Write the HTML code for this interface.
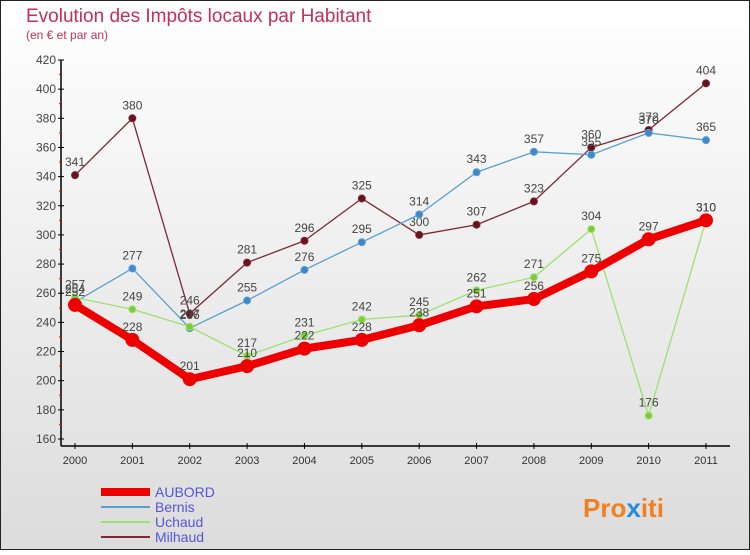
<!DOCTYPE html>
<html><head><meta charset="utf-8"><style>
body{margin:0;width:750px;height:550px;overflow:hidden;font-family:"Liberation Sans",sans-serif}
svg text{font-family:"Liberation Sans",sans-serif}
</style></head><body>
<svg id="c" width="750" height="550" xmlns="http://www.w3.org/2000/svg">
<defs><linearGradient id="bg" x1="0" y1="0" x2="0" y2="1"><stop offset="0" stop-color="#ffffff"/><stop offset="1" stop-color="#dcdcdc"/></linearGradient></defs>
<rect x="0.5" y="0.5" width="749" height="549" fill="url(#bg)" stroke="#222"/>
<text x="26" y="22" font-size="19" fill="#c0305a">Evolution des Impôts locaux par Habitant</text>
<text x="26" y="39" font-size="12" fill="#c0305a">(en € et par an)</text>
<g id="axes"></g><g id="series"></g><g id="legend"></g>
<text x="583" y="517" font-size="26" font-weight="bold" fill="#f08020">Pro<tspan fill="#2a8ad8">x</tspan>iti</text>
</svg>
<script>
const years=["2000","2001","2002","2003","2004","2005","2006","2007","2008","2009","2010","2011"];
const yTicks=[160,180,200,220,240,260,280,300,320,340,360,380,400,420];
const aubord=[252,228,201,210,222,228,238,251,256,275,297,310];
const bernis=[254,277,236,255,276,295,314,343,357,355,370,365];
const uchaud=[257,249,237,217,231,242,245,262,271,304,176,310];
const milhaud=[341,380,246,281,296,325,300,307,323,360,372,404];
const NS="http://www.w3.org/2000/svg";
const x=i=>75+i*(706-75)/11;
const y=v=>60+(420-v)*(439-60)/260;
function mk(t,a,p){const e=document.createElementNS(NS,t);for(const k in a)e.setAttribute(k,a[k]);p.appendChild(e);return e;}
const ax=document.getElementById('axes');
const yl=mk('line',{x1:61,y1:60,x2:61,y2:446,stroke:'#000','stroke-width':1.5},ax);


const xl=mk('line',{x1:61,y1:446,x2:730,y2:446,stroke:'#000','stroke-width':1.5},ax);


yTicks.forEach(v=>{
  mk('line',{x1:58,y1:y(v),x2:64,y2:y(v),stroke:'#000'},ax);
  if(v<420)mk('line',{x1:59,y1:y(v+10),x2:62,y2:y(v+10),stroke:'#e00'},ax);
  const t=mk('text',{x:56,y:y(v)+4,'font-size':12,'text-anchor':'end',fill:'#444'},ax);t.textContent=v;
  
  
});
years.forEach((yr,i)=>{
  mk('line',{x1:x(i),y1:443,x2:x(i),y2:449,stroke:'#000'},ax);
  const t=mk('text',{x:x(i),y:464,'font-size':11,'text-anchor':'middle',fill:'#333'},ax);t.textContent=yr;
  
  
});
const sg=document.getElementById('series');
function series(d,col,dot,w,r,name){
  const g=mk('g',{},sg);
  
  
  mk('polyline',{points:d.map((v,i)=>x(i)+','+y(v)).join(' '),fill:'none',stroke:col,'stroke-width':w,'stroke-linejoin':'round'},g);
  d.forEach((v,i)=>{
    const c=mk('circle',{cx:x(i),cy:y(v),r:r,fill:dot,stroke:col,'stroke-width':1},g);
    
    
    const t=mk('text',{x:x(i),y:y(v)-9,'font-size':12,'text-anchor':'middle',fill:'#444'},g);t.textContent=v;
    
    
  });
}
series(milhaud,'#7a2a33','#6a1020',1.3,3.5,'milhaud');
series(bernis,'#5a9ed4','#3c88c8',1.3,3.5,'bernis');
series(uchaud,'#9ee070','#7ccc3a',1.3,3.5,'uchaud');
series(aubord,'#ee0000','#ee0000',8,6.5,'aubord');
const lg=document.getElementById('legend');
[["AUBORD",'#ee0000',8],["Bernis",'#5a9ed4',2],["Uchaud",'#9ee070',2],["Milhaud",'#7a2a33',2]].forEach((s,i)=>{
  const g=mk('g',{},lg);
  
  
  const yy=492+i*15;
  mk('line',{x1:101,y1:yy,x2:150,y2:yy,stroke:s[1],'stroke-width':s[2]},g);
  const t=mk('text',{x:155,y:yy+5,'font-size':14,fill:'#5555dd'},g);t.textContent=s[0];
});
</script>
</body></html>
